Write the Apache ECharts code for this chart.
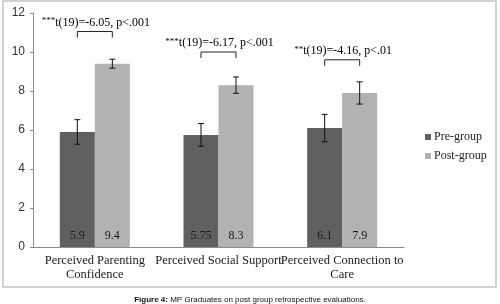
<!DOCTYPE html>
<html>
<head>
<meta charset="utf-8">
<script src="https://cdn.jsdelivr.net/npm/echarts@6/dist/echarts.min.js"></script>
<style>
  html, body { margin: 0; padding: 0; background: #fff; }
  #chart { width: 500px; height: 304px; }
</style>
</head>
<body>
<div id="chart"></div>
<script>
// 数据
const categories = ['Perceived Parenting\nConfidence', 'Perceived Social Support', 'Perceived Connection to\nCare']
const preValues = [5.9, 5.75, 6.1]
const postValues = [9.4, 8.3, 7.9]
const preErr = [0.63, 0.58, 0.7]
const postErr = [0.23, 0.42, 0.57]
const bracketLevels = [11.05, 10.0, 9.6]
const statStars = ['***', '***', '**']
const statText = ['t(19)=-6.05, p<.001', 't(19)=-6.17, p<.001', 't(19)=-4.16, p<.01']

const serif = '"Liberation Serif", "DejaVu Serif", serif'
const sans = '"Liberation Sans", Arial, sans-serif'
const halfBar = 17.5

// 误差线
const errorSeries = (values, errs, side) => ({
  type: 'custom',
  z: 5,
  data: values.map((v, i) => [i, v, errs[i]]),
  renderItem: (params, api) => {
    const i = api.value(0)
    const top = api.coord([i, api.value(1) + api.value(2)])
    const bot = api.coord([i, api.value(1) - api.value(2)])
    const x = top[0] + side * halfBar
    const style = { stroke: '#111', lineWidth: 1 }
    return {
      type: 'group',
      children: [
        { type: 'line', shape: { x1: x, y1: top[1], x2: x, y2: bot[1] }, style },
        { type: 'line', shape: { x1: x - 3, y1: top[1], x2: x + 3, y2: top[1] }, style },
        { type: 'line', shape: { x1: x - 3, y1: bot[1], x2: x + 3, y2: bot[1] }, style }
      ]
    }
  }
})

const chart = echarts.init(document.getElementById('chart'))
chart.setOption({
  animation: false,
  title: {
    text: '{b|Figure 4:} MP Graduates on post group retrospective evaluations.',
    left: 'center',
    top: 291,
    textStyle: {
      fontFamily: sans,
      fontSize: 8,
      fontWeight: 'normal',
      color: '#111',
      rich: { b: { fontWeight: 'bold', fontSize: 8, fontFamily: sans, color: '#111' } }
    }
  },
  graphic: [{
    type: 'rect',
    shape: { x: 3, y: 1, width: 493, height: 286 },
    style: { fill: 'none', stroke: '#c4c4c4', lineWidth: 1.5 },
    silent: true
  }],
  legend: {
    orient: 'vertical',
    left: 420,
    top: 126,
    itemWidth: 6,
    itemHeight: 6,
    itemGap: 7,
    icon: 'rect',
    data: ['Pre-group', 'Post-group'],
    textStyle: { fontFamily: serif, fontSize: 12, color: '#222', padding: [0, 0, 0, -2] }
  },
  grid: { left: 33, right: 96, top: 13, bottom: 57 },
  xAxis: {
    type: 'category',
    data: categories,
    axisLine: { lineStyle: { color: '#8c8c8c' } },
    axisTick: { length: 5, lineStyle: { color: '#8c8c8c' } },
    axisLabel: { fontFamily: serif, fontSize: 12.5, color: '#222', margin: 7, lineHeight: 14, interval: 0 }
  },
  yAxis: {
    type: 'value',
    min: 0,
    max: 12,
    interval: 2,
    splitLine: { show: false },
    axisLine: { show: true, lineStyle: { color: '#8c8c8c' } },
    axisTick: { show: true, length: 3, lineStyle: { color: '#8c8c8c' } },
    axisLabel: { fontFamily: sans, fontSize: 12, color: '#333', margin: 8 }
  },
  series: [
    {
      name: 'Pre-group',
      type: 'bar',
      barWidth: 35,
      barGap: '0%',
      data: preValues,
      itemStyle: { color: '#606060' },
      label: { show: true, position: 'insideBottom', distance: 5, fontFamily: serif, fontSize: 12, color: '#1a1a1a' }
    },
    {
      name: 'Post-group',
      type: 'bar',
      barWidth: 35,
      data: postValues,
      itemStyle: { color: '#b2b2b2' },
      label: { show: true, position: 'insideBottom', distance: 5, fontFamily: serif, fontSize: 12, color: '#1a1a1a' }
    },
    errorSeries(preValues, preErr, -1),
    errorSeries(postValues, postErr, 1),
    {
      // 显著性标注
      type: 'custom',
      z: 6,
      data: bracketLevels.map((v, i) => [i, v]),
      renderItem: (params, api) => {
        const i = api.value(0)
        const p = api.coord([i, api.value(1)])
        const x1 = p[0] - halfBar
        const x2 = p[0] + halfBar
        const y = p[1]
        return {
          type: 'group',
          children: [
            {
              type: 'polyline',
              shape: { points: [[x1, y + 6], [x1, y], [x2, y], [x2, y + 6]] },
              style: { stroke: '#222', lineWidth: 1, fill: 'none' }
            },
            {
              type: 'text',
              x: p[0] + 1,
              y: y - 3,
              style: {
                text: '{s|' + statStars[i] + '}{t|' + statText[i] + '}',
                align: 'center',
                verticalAlign: 'bottom',
                rich: {
                  s: { fontFamily: serif, fontSize: 9, color: '#222', verticalAlign: 'top' },
                  t: { fontFamily: serif, fontSize: 12, color: '#222' }
                }
              }
            }
          ]
        }
      }
    }
  ]
})
</script>
</body>
</html>
